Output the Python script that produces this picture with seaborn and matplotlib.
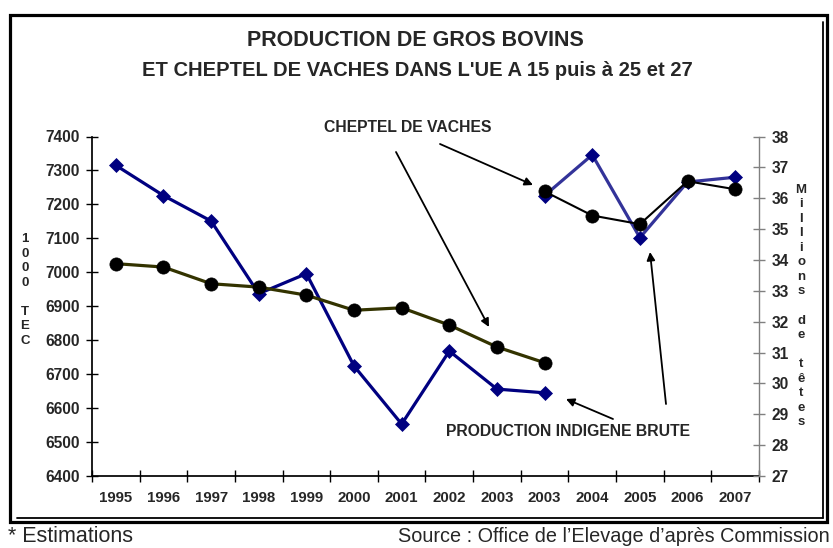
import numpy as np
import pandas as pd
import matplotlib
matplotlib.use("Agg")
import matplotlib.pyplot as plt
import seaborn as sns
from matplotlib.patches import Rectangle
from matplotlib.lines import Line2D

# categories on the x axis (2003 appears twice: UE15 then UE25)
years = ['1995', '1996', '1997', '1998', '1999', '2000', '2001',
         '2002', '2003', '2003', '2004', '2005', '2006', '2007']

# production indigene brute, UE15 (1000 TEC, left axis)
prod_ue15 = [7315, 7226, 7151, 6937, 6996, 6724, 6553, 6768, 6656, 6645]
# production, UE25/27 part (left axis)
prod_ue25 = [7226, 7346, 7102, 7266, 7280]

# cheptel de vaches (millions de tetes, right axis)
vaches_ue15 = [33.88, 33.77, 33.23, 33.12, 32.86, 32.37, 32.45, 31.89, 31.18, 30.67]
vaches_ue25 = [36.22, 35.44, 35.16, 36.55, 36.29]

pos = np.arange(len(years))
df_prod1 = pd.DataFrame({'x': pos[:10], 'y': prod_ue15})
df_prod2 = pd.DataFrame({'x': pos[9:], 'y': prod_ue25})
df_vac1 = pd.DataFrame({'x': pos[:10], 'y': vaches_ue15})
df_vac2 = pd.DataFrame({'x': pos[9:], 'y': vaches_ue25})

sns.set_theme(style='white')
plt.rcParams['font.family'] = ['Liberation Sans', 'DejaVu Sans']

W, H = 833, 548
fig = plt.figure(figsize=(W / 100, H / 100), dpi=100)
ax = fig.add_axes([92 / W, 1 - 476 / H, (759 - 92) / W, (476 - 136.5) / H])
ax2 = ax.twinx()

# production lines (left axis)
sns.lineplot(data=df_prod1, x='x', y='y', ax=ax, color='#000080', linewidth=2.3,
             marker='D', markersize=7.5, markeredgecolor='#000080', markeredgewidth=0.5)
sns.lineplot(data=df_prod2, x='x', y='y', ax=ax, color='#333399', linewidth=2.3,
             marker='D', markersize=7.5, markerfacecolor='#000080',
             markeredgecolor='#000080', markeredgewidth=0.5)

# cheptel lines (right axis)
sns.lineplot(data=df_vac1, x='x', y='y', ax=ax2, color='#333300', linewidth=2.3,
             marker='o', markersize=9.5, markerfacecolor='black',
             markeredgecolor='black', markeredgewidth=0.5)
sns.lineplot(data=df_vac2, x='x', y='y', ax=ax2, color='black', linewidth=1.5,
             marker='o', markersize=9.5, markerfacecolor='black',
             markeredgecolor='black', markeredgewidth=0.5)

ax.set_xlim(-0.5, len(years) - 0.5)
ax.set_ylim(6400, 7400)
ax2.set_ylim(27, 38)
ax.set_xlabel('')
ax.set_ylabel('')
ax2.set_ylabel('')

ax.set_xticks(np.arange(-0.5, len(years), 1))
ax.set_xticklabels([''] * (len(years) + 1))
ax.set_xticks(pos, minor=True)
ax.set_xticklabels(years, minor=True, fontsize=10.8, fontweight='bold')
ax.tick_params(axis='x', which='major', direction='inout', length=8, width=1, color='black', bottom=True)
ax.tick_params(axis='x', which='minor', length=0, pad=11, bottom=True)

ax.set_yticks(np.arange(6400, 7401, 100))
ax.set_yticklabels([str(v) for v in range(6400, 7401, 100)], fontsize=11.2, fontweight='bold')
ax.tick_params(axis='y', direction='inout', length=8, width=1, color='black', pad=5, left=True)

ax2.set_yticks(np.arange(27, 39, 1))
ax2.set_yticklabels([str(v) for v in range(27, 39)], fontsize=11.2, fontweight='bold')
ax2.tick_params(axis='y', direction='inout', length=8, width=1, color='#808080', pad=5, right=True)

for a in (ax, ax2):
    a.spines['top'].set_visible(False)
    a.grid(False)
ax.spines['right'].set_visible(False)
ax.spines['left'].set_color('black')
ax.spines['bottom'].set_color('black')
ax2.spines['left'].set_visible(False)
ax2.spines['bottom'].set_visible(False)
ax2.spines['right'].set_color('#808080')
ax2.spines['right'].set_linewidth(1)
ax.patch.set_alpha(0)
ax2.patch.set_alpha(0)


def fp(x, y):
    return (x, H - y)


# title
fig.text(415 / W, 1 - 40 / H, 'PRODUCTION DE GROS BOVINS', ha='center', va='center',
         fontsize=15.5, fontweight='bold')
fig.text(417 / W, 1 - 70 / H, "ET CHEPTEL DE VACHES DANS L'UE A 15 puis à 25 et 27",
         ha='center', va='center', fontsize=14.5, fontweight='bold')

# vertical axis titles
fig.text(25 / W, 1 - 290 / H, '1\n0\n0\n0\n\nT\nE\nC', ha='center', va='center',
         fontsize=9.5, fontweight='bold', linespacing=1.28)
fig.text(801 / W, 1 - 306 / H, 'M\ni\nl\nl\ni\no\nn\ns\n\nd\ne\n\nt\nê\nt\ne\ns',
         ha='center', va='center', fontsize=9.5, fontweight='bold', linespacing=1.28)

# annotations
fig.text(408 / W, 1 - 127 / H, 'CHEPTEL DE VACHES', ha='center', va='center',
         fontsize=11.3, fontweight='bold')
fig.text(568 / W, 1 - 431 / H, 'PRODUCTION INDIGENE BRUTE', ha='center', va='center',
         fontsize=11.3, fontweight='bold')
arrows = [((440, 144), (533, 185)), ((396, 152), (489, 327)),
          ((613, 419), (566, 399)), ((666, 404), (650, 252))]
for start, end in arrows:
    ax.annotate('', xy=fp(*end), xycoords='figure pixels', xytext=fp(*start),
                textcoords='figure pixels',
                arrowprops=dict(arrowstyle='-|>', color='black', lw=1.3,
                                mutation_scale=12, shrinkA=0, shrinkB=0))

# frame with shadow line
fig.add_artist(Rectangle((10 / W, 1 - 522 / H), (827 - 10) / W, (522 - 15) / H,
                         transform=fig.transFigure, fill=False, edgecolor='black', linewidth=2.3))
fig.add_artist(Line2D([823 / W, 823 / W], [1 - 22 / H, 1 - 518 / H], transform=fig.transFigure,
                      color='black', linewidth=1.3))
fig.add_artist(Line2D([17 / W, 823 / W], [1 - 518 / H, 1 - 518 / H], transform=fig.transFigure,
                      color='black', linewidth=1.3))

# footer
fig.text(8 / W, 1 - 536 / H, '* Estimations', ha='left', va='center', fontsize=15.5)
fig.text(398 / W, 1 - 536 / H, 'Source : Office de l’Elevage d’après Commission',
         ha='left', va='center', fontsize=14.3)

fig.savefig('out.png', dpi=100)
